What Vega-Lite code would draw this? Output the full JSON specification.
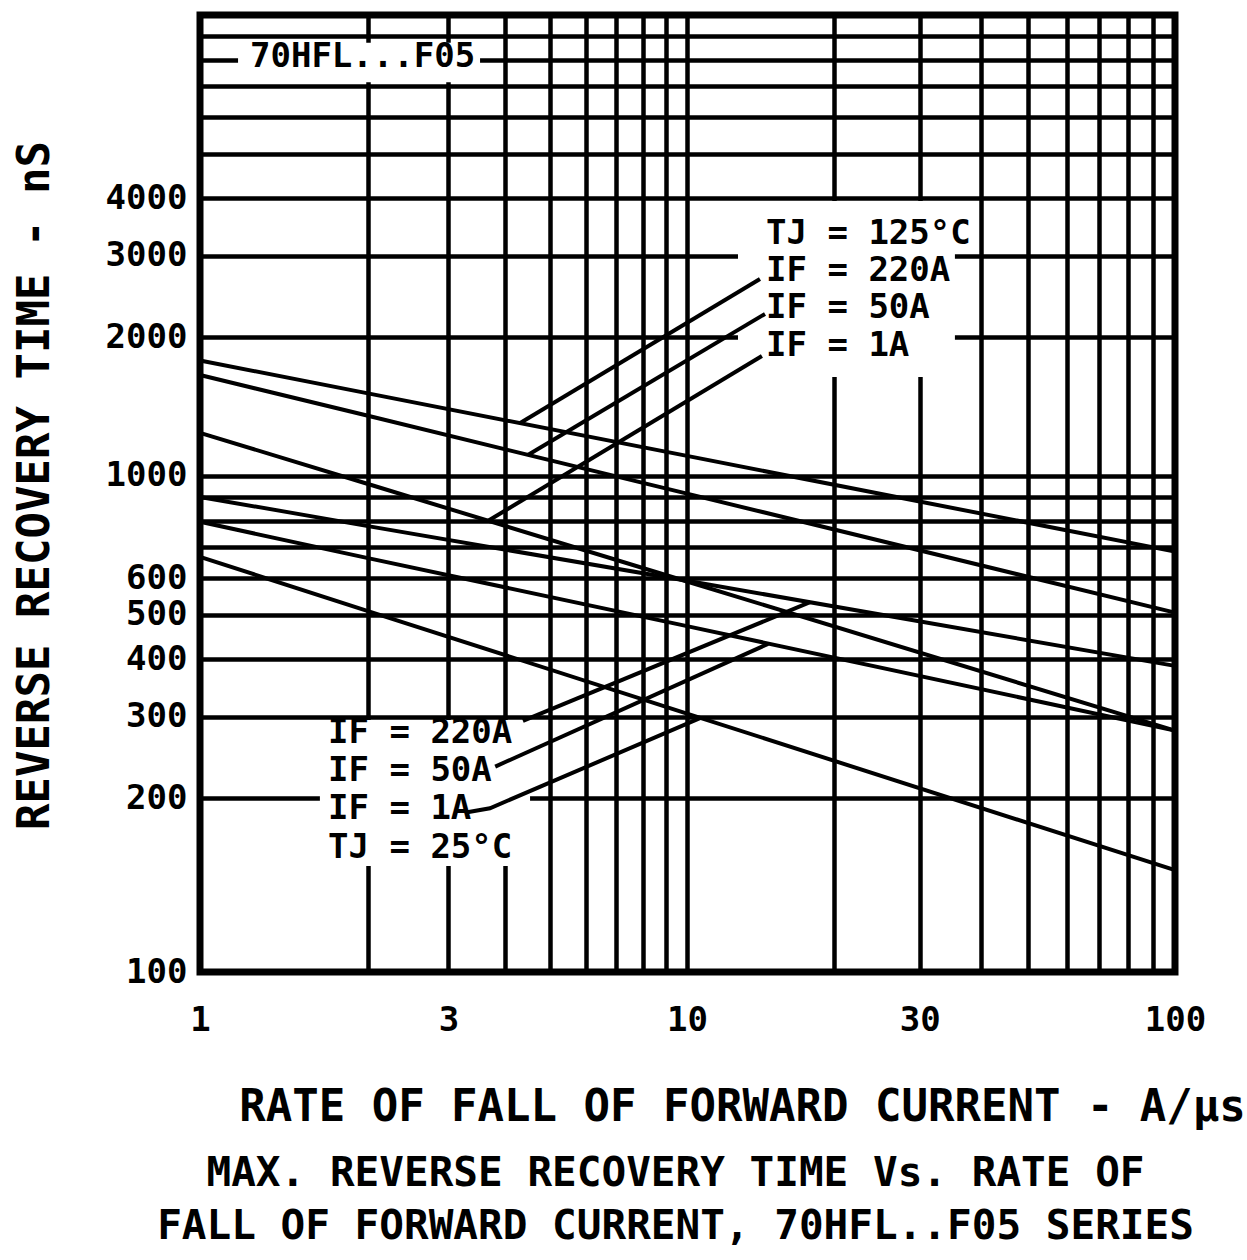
{
  "$schema": "https://vega.github.io/schema/vega-lite/v6.json",
  "width": 975,
  "height": 957,
  "autosize": {"type": "none"},
  "padding": {"left": 200, "top": 15, "right": 72, "bottom": 288},
  "background": "white",
  "config": {
    "view": {"stroke": "black", "strokeWidth": 7},
    "font": "DejaVu Sans Mono"
  },
  "title": {
    "text": ["MAX. REVERSE RECOVERY TIME Vs. RATE OF", "FALL OF FORWARD CURRENT, 70HFL..F05 SERIES"],
    "orient": "bottom",
    "anchor": "middle",
    "frame": "group",
    "font": "DejaVu Sans Mono",
    "fontSize": 41,
    "fontWeight": "bold",
    "color": "black",
    "lineHeight": 53,
    "offset": 25,
    "dx": -12,
    "baseline": "top"
  },
  "datasets": {
    "curves": [
      {"series": "125°C IF=220A", "x": 1, "y": 1780},
      {"series": "125°C IF=220A", "x": 2, "y": 1510},
      {"series": "125°C IF=220A", "x": 10, "y": 1105},
      {"series": "125°C IF=220A", "x": 100, "y": 685},
      {"series": "125°C IF=50A", "x": 1, "y": 1655},
      {"series": "125°C IF=50A", "x": 2, "y": 1350},
      {"series": "125°C IF=50A", "x": 10, "y": 915},
      {"series": "125°C IF=50A", "x": 100, "y": 505},
      {"series": "125°C IF=1A", "x": 1, "y": 1240},
      {"series": "125°C IF=1A", "x": 2, "y": 960},
      {"series": "125°C IF=1A", "x": 10, "y": 590},
      {"series": "125°C IF=1A", "x": 100, "y": 280},
      {"series": "25°C IF=220A", "x": 1, "y": 900},
      {"series": "25°C IF=220A", "x": 2, "y": 778},
      {"series": "25°C IF=220A", "x": 10, "y": 592},
      {"series": "25°C IF=220A", "x": 100, "y": 387},
      {"series": "25°C IF=50A", "x": 1, "y": 795},
      {"series": "25°C IF=50A", "x": 2, "y": 663},
      {"series": "25°C IF=50A", "x": 10, "y": 472},
      {"series": "25°C IF=50A", "x": 100, "y": 280},
      {"series": "25°C IF=1A", "x": 1, "y": 667},
      {"series": "25°C IF=1A", "x": 2, "y": 509},
      {"series": "25°C IF=1A", "x": 10, "y": 305},
      {"series": "25°C IF=1A", "x": 100, "y": 150}
    ],
    "leaders": [
      {"series": "lead 125°C 220A", "x": 4.31, "y": 1302},
      {"series": "lead 125°C 220A", "x": 14.11, "y": 2674},
      {"series": "lead 125°C 50A", "x": 4.48, "y": 1110},
      {"series": "lead 125°C 50A", "x": 14.45, "y": 2246},
      {"series": "lead 125°C 1A", "x": 3.66, "y": 798},
      {"series": "lead 125°C 1A", "x": 14.24, "y": 1820},
      {"series": "lead 25°C 220A", "x": 4.37, "y": 294},
      {"series": "lead 25°C 220A", "x": 17.87, "y": 532},
      {"series": "lead 25°C 50A", "x": 3.8, "y": 234},
      {"series": "lead 25°C 50A", "x": 14.66, "y": 432},
      {"series": "lead 25°C 1A", "x": 3.3, "y": 189},
      {"series": "lead 25°C 1A", "x": 3.7, "y": 192},
      {"series": "lead 25°C 1A", "x": 10.63, "y": 298}
    ],
    "labels": [
      {"text": "70HFL...F05", "x": 1.229, "y": 8107},
      {"text": "TJ = 125°C", "x": 14.52, "y": 3341},
      {"text": "IF = 220A", "x": 14.52, "y": 2777},
      {"text": "IF = 50A", "x": 14.52, "y": 2314},
      {"text": "IF = 1A", "x": 14.52, "y": 1918},
      {"text": "IF = 220A", "x": 1.696, "y": 277},
      {"text": "IF = 50A", "x": 1.696, "y": 229},
      {"text": "IF = 1A", "x": 1.696, "y": 191.4},
      {"text": "TJ = 25°C", "x": 1.696, "y": 163.9}
    ],
    "masks": [
      {"x": 1.17, "x2": 3.52, "y": 7150, "y2": 8700},
      {"x": 12.72, "x2": 35.4, "y": 1639, "y2": 3948},
      {"x": 1.64, "x2": 4.53, "y": 152.6, "y2": 295.4}
    ]
  },
  "encoding": {
    "x": {
      "field": "x",
      "type": "quantitative",
      "scale": {"type": "log", "domain": [1, 2, 10, 100], "range": [0, 168, 487, 975], "nice": false},
      "axis": {
        "values": [1, 2, 3, 4, 5, 6, 7, 8, 9, 10, 20, 30, 40, 50, 60, 70, 80, 90, 100],
        "format": "d",
        "labelExpr": "indexof([1, 3, 10, 30, 100], datum.value) >= 0 ? datum.label : ''",
        "grid": true,
        "gridColor": "black",
        "gridWidth": 4.5,
        "gridOpacity": 1,
        "ticks": false,
        "domain": false,
        "labelFont": "DejaVu Sans Mono",
        "labelFontSize": 34,
        "labelFontWeight": "bold",
        "labelColor": "black",
        "labelPadding": 31,
        "labelBaseline": "top",
        "labelFlush": false,
        "labelOverlap": false,
        "title": "RATE OF FALL OF FORWARD CURRENT - A/µs",
        "titleFont": "DejaVu Sans Mono",
        "titleFontSize": 44,
        "titleFontWeight": "bold",
        "titleColor": "black",
        "titleX": 542,
        "titleY": 148,
        "titleAlign": "center",
        "titleBaseline": "alphabetic"
      }
    },
    "y": {
      "field": "y",
      "type": "quantitative",
      "scale": {"type": "log", "domain": [100, 200, 10000], "range": [957, 783, 0], "nice": false},
      "axis": {
        "values": [100, 200, 300, 400, 500, 600, 700, 800, 900, 1000, 2000, 3000, 4000, 5000, 6000, 7000, 8000, 9000, 10000],
        "format": "d",
        "labelExpr": "indexof([100, 200, 300, 400, 500, 600, 1000, 2000, 3000, 4000], datum.value) >= 0 ? datum.label : ''",
        "grid": true,
        "gridColor": "black",
        "gridWidth": 4.5,
        "gridOpacity": 1,
        "ticks": false,
        "domain": false,
        "labelFont": "DejaVu Sans Mono",
        "labelFontSize": 34,
        "labelFontWeight": "bold",
        "labelColor": "black",
        "labelPadding": 13,
        "labelAlign": "right",
        "labelBaseline": "middle",
        "labelFlush": false,
        "labelOverlap": false,
        "title": "REVERSE RECOVERY TIME - nS",
        "titleFont": "DejaVu Sans Mono",
        "titleFontSize": 44,
        "titleFontWeight": "bold",
        "titleColor": "black",
        "titleX": -165,
        "titleY": 470,
        "titleAngle": 270,
        "titleAlign": "center",
        "titleBaseline": "middle"
      }
    }
  },
  "layer": [
    {
      "data": {"name": "masks"},
      "mark": {"type": "rect", "fill": "white", "stroke": null},
      "encoding": {
        "x2": {"field": "x2"},
        "y2": {"field": "y2"}
      }
    },
    {
      "data": {"name": "curves"},
      "mark": {"type": "line", "color": "black", "strokeWidth": 4},
      "encoding": {"detail": {"field": "series", "type": "nominal"}}
    },
    {
      "data": {"name": "leaders"},
      "mark": {"type": "line", "color": "black", "strokeWidth": 4},
      "encoding": {"detail": {"field": "series", "type": "nominal"}}
    },
    {
      "data": {"name": "labels"},
      "mark": {"type": "text", "align": "left", "baseline": "middle", "font": "DejaVu Sans Mono", "fontSize": 34, "fontWeight": "bold", "color": "black"},
      "encoding": {"text": {"field": "text", "type": "nominal"}}
    }
  ]
}
